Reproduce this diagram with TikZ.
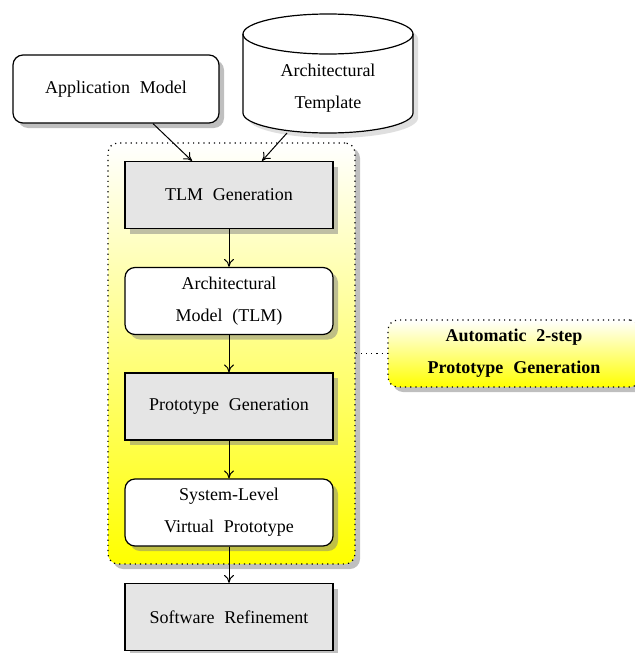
\documentclass[tikz,border=0pt]{standalone}
\usepackage{fontspec}
\setmainfont{Liberation Serif}[WordSpace=2.2]
\usetikzlibrary{shadows,arrows.meta}
\begin{document}
\begin{tikzpicture}[x=0.5pt,y=-0.5pt,
  txt/.style={align=center, inner sep=0pt, font=\fontsize{9}{16}\selectfont},
  shadowed/.style={drop shadow={shadow xshift=2.5pt, shadow yshift=-2.5pt}},
  blockbase/.style={txt, shadowed, draw=black, line width=0.6pt,
    minimum width=104pt, minimum height=33.5pt},
  stage/.style={blockbase, fill=gray!20},
  artifact/.style={blockbase, fill=white, rounded corners=5pt},
  flow/.style={-{To[length=4pt,width=5pt]}, line width=0.5pt},
  grouping/.style={draw=black, dotted, line width=0.6pt, rounded corners=5pt,
    top color=white, middle color=yellow!60, bottom color=yellow, shadowed}
]
\useasboundingbox (0,0) rectangle (635,653);

% automatic generation group
\node[grouping, minimum width=123.5pt, minimum height=210.5pt, inner sep=0pt]
  (grp) at (231.5,353.5) {};

% inputs
\node[artifact, minimum width=103pt, minimum height=34pt] (app) at (116,89) {Application Model};

\fill[gray!50, opacity=0.5, shift={(2.5pt,-2.5pt)}]
  (243,34) -- (243,113) arc (180:360:42.5pt and 10pt) -- (413,34)
  arc (0:180:42.5pt and 10pt) -- cycle;
\filldraw[fill=white, draw=black, line width=0.6pt]
  (243,34) -- (243,113) arc (180:360:42.5pt and 10pt) -- (413,34)
  arc (0:180:42.5pt and 10pt) -- cycle;
\draw[line width=0.6pt] (243,34) arc (180:360:42.5pt and 10pt);
\node[txt] (tmpl) at (328,88) {Architectural\\Template};
\coordinate (tmplbot) at (287,133);

% flow
\node[stage] (tlm) at (229,195) {TLM Generation};
\node[artifact] (arch) at (229,301) {Architectural\\Model (TLM)};
\node[stage] (proto) at (229,406.5) {Prototype Generation};
\node[artifact] (svp) at (229,512.5) {System-Level\\Virtual Prototype};
\node[stage] (sw) at (229,617) {Software Refinement};

\draw[flow] (app.south -| 153,0) -- (tlm.north -| 192,0);
\draw[flow] (tmplbot) -- (tlm.north -| 262,0);
\draw[flow] (tlm) -- (arch);
\draw[flow] (arch) -- (proto);
\draw[flow] (proto) -- (svp);
\draw[flow] (svp) -- (sw);

% label for the group
\node[grouping, txt, font=\fontsize{9}{16}\selectfont\bfseries,
  minimum width=126pt, minimum height=33.5pt] (auto) at (514,353.5)
  {Automatic 2-step\\Prototype Generation};
\draw[dotted, line width=0.6pt] (grp.east |- auto.west) -- (auto.west);
\end{tikzpicture}
\end{document}
